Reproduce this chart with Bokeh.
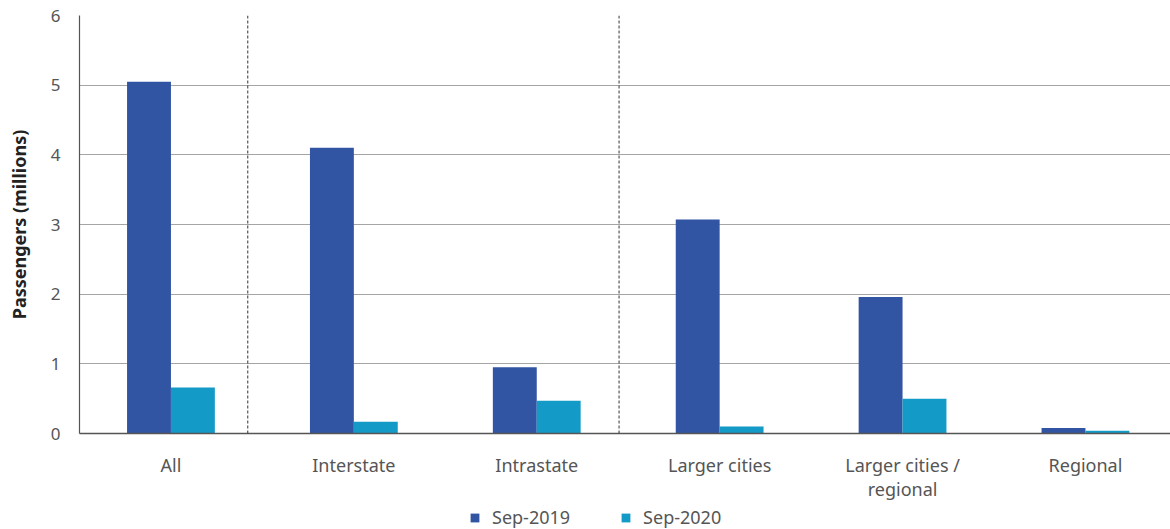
import numpy as np
from bokeh.plotting import figure
from bokeh.layouts import column
from bokeh.models import Range1d, FixedTicker, Span, ColumnDataSource, Legend, LegendItem
from bokeh.transform import dodge
from bokeh.embed import file_html
from bokeh.resources import INLINE

# Passenger numbers by market segment (millions)
categories = ["All", "Interstate", "Intrastate", "Larger cities",
              "Larger cities /\nregional", "Regional"]
sep_2019 = [5.05, 4.10, 0.95, 3.07, 1.96, 0.08]
sep_2020 = [0.66, 0.17, 0.47, 0.10, 0.50, 0.04]
y_ticks = [0, 1, 2, 3, 4, 5, 6]
series_names = ["Sep-2019", "Sep-2020"]

BLUE = "#3155a3"
TEAL = "#149ac6"
FONT = "Noto Sans"

x_pos = np.arange(len(categories)) + 0.5
src = ColumnDataSource(dict(x=x_pos, a=sep_2019, b=sep_2020))

p = figure(width=1170, height=503, output_backend="svg", toolbar_location=None,
           x_range=Range1d(0, 5.965), y_range=Range1d(0, 6),
           min_border_left=79, min_border_right=0, min_border_top=15,
           min_border_bottom=68, outline_line_color=None)

bar_w = 0.24
p.vbar(x=dodge("x", -bar_w / 2, range=p.x_range), top="a", width=bar_w,
       source=src, fill_color=BLUE, line_color=None)
p.vbar(x=dodge("x", bar_w / 2, range=p.x_range), top="b", width=bar_w,
       source=src, fill_color=TEAL, line_color=None)

# group separators
for xs in (0.92, 2.95):
    p.add_layout(Span(location=xs, dimension="height", line_color="#333333",
                      line_width=1, line_dash="3 2"))

# axes
p.xaxis.ticker = FixedTicker(ticks=list(x_pos))
p.xaxis.major_label_overrides = {float(x): c for x, c in zip(x_pos, categories)}
p.xaxis.major_tick_line_color = None
p.xaxis.minor_tick_line_color = None
p.xaxis.axis_line_color = "#555555"
p.xaxis.axis_line_width = 1.5
p.xaxis.major_label_standoff = 13
p.xaxis.major_label_text_font = FONT
p.xaxis.major_label_text_font_size = "18px"
p.xaxis.major_label_text_line_height = 1.0
p.xaxis.major_label_text_color = "#555555"

p.yaxis.ticker = FixedTicker(ticks=y_ticks)
p.yaxis.major_tick_line_color = None
p.yaxis.minor_tick_line_color = None
p.yaxis.axis_line_color = "#555555"
p.yaxis.axis_line_width = 1.2
p.yaxis.major_label_standoff = 13
p.yaxis.major_label_text_font = FONT
p.yaxis.major_label_text_font_size = "17px"
p.yaxis.major_label_text_color = "#555555"
p.yaxis.axis_label = "Passengers (millions)"
p.yaxis.axis_label_text_font = FONT
p.yaxis.axis_label_text_font_style = "bold"
p.yaxis.axis_label_text_font_size = "18px"
p.yaxis.axis_label_text_color = "#222222"
p.yaxis.axis_label_standoff = 17

p.xgrid.grid_line_color = None
p.ygrid.grid_line_color = "#a5a5a5"
p.ygrid.grid_line_width = 1

# legend strip underneath the chart
lg = figure(width=1170, height=26, output_backend="svg", toolbar_location=None,
            x_range=Range1d(0, 1), y_range=Range1d(0, 1),
            min_border_left=0, min_border_right=0, min_border_top=0,
            min_border_bottom=0, outline_line_color=None)
lg.axis.visible = False
lg.grid.visible = False
key_src = ColumnDataSource(dict(x=[5.0], top=[0.0]))
k1 = lg.vbar(x="x", top="top", width=0.1, source=key_src,
             fill_color=BLUE, line_color=None)
k2 = lg.vbar(x="x", top="top", width=0.1, source=key_src,
             fill_color=TEAL, line_color=None)
legend = Legend(items=[LegendItem(label=series_names[0], renderers=[k1]),
                       LegendItem(label=series_names[1], renderers=[k2])],
                orientation="horizontal", location=(390, 0),
                glyph_width=11, glyph_height=11, spacing=50, label_standoff=12,
                label_text_font=FONT, label_text_font_size="18px",
                label_height=18, label_text_color="#555555",
                border_line_color=None, background_fill_alpha=0,
                padding=0, margin=0)
lg.add_layout(legend, "center")

layout = column(p, lg, spacing=0)
open("out.html", "w").write(file_html(layout, INLINE))
